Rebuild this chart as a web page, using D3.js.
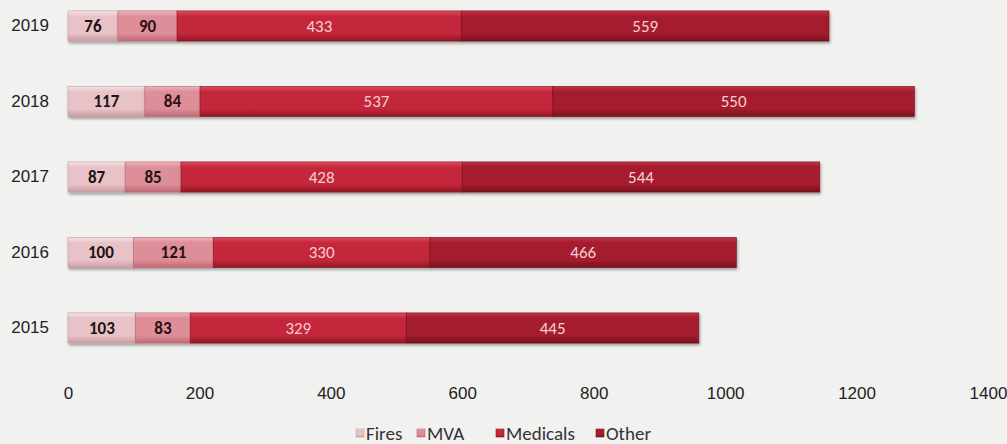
<!DOCTYPE html>
<html>
<head>
<meta charset="utf-8">
<script src="https://cdn.jsdelivr.net/npm/d3@7"></script>
<style>
  body { margin: 0; background: #f1f1f0; }
  svg { display: block; font-family: Carlito, Lato, "Open Sans", sans-serif; }
</style>
</head>
<body>
<div id="chart"></div>
<script>
// data
const years = ["2019", "2018", "2017", "2016", "2015"];
const seriesNames = ["Fires", "MVA", "Medicals", "Other"];
const fires    = [76, 117, 87, 100, 103];
const mva      = [90, 84, 85, 121, 83];
const medicals = [433, 537, 428, 330, 329];
const other    = [559, 550, 544, 466, 445];
const xTicks = [0, 200, 400, 600, 800, 1000, 1200, 1400];

const width = 1007, height = 444;
const colors = {
  Fires:    ["#f6e4e6", "#e8c2c6", "#c99ca2"],
  MVA:      ["#eeb4bb", "#de8e98", "#bf6874"],
  Medicals: ["#e04a5a", "#c4283a", "#8e1624"],
  Other:    ["#c13344", "#a51c2d", "#761020"]
};
const labelColor = { Fires: "#1c1414", MVA: "#2a1214", Medicals: "#f3cfd2", Other: "#f3cfd2" };

// build rows for stack
const rows = years.map((y, i) => ({
  year: y, Fires: fires[i], MVA: mva[i], Medicals: medicals[i], Other: other[i]
}));
const stacked = d3.stack().keys(seriesNames)(rows);

const svg = d3.select("#chart").append("svg")
  .attr("width", width).attr("height", height);

svg.append("rect").attr("width", width).attr("height", height).attr("fill", "#f1f1f0");

const defs = svg.append("defs");
seriesNames.forEach(k => {
  const g = defs.append("linearGradient").attr("id", "grad-" + k)
    .attr("x1", 0).attr("y1", 0).attr("x2", 0).attr("y2", 1);
  g.append("stop").attr("offset", "0%").attr("stop-color", colors[k][0]);
  g.append("stop").attr("offset", "18%").attr("stop-color", colors[k][1]);
  g.append("stop").attr("offset", "75%").attr("stop-color", colors[k][1]);
  g.append("stop").attr("offset", "100%").attr("stop-color", colors[k][2]);
});
const shadow = defs.append("filter").attr("id", "shadow")
  .attr("x", "-5%").attr("y", "-20%").attr("width", "110%").attr("height", "160%");
shadow.append("feGaussianBlur").attr("in", "SourceAlpha").attr("stdDeviation", 1.5);
shadow.append("feOffset").attr("dx", 1).attr("dy", 2).attr("result", "b");
shadow.append("feComponentTransfer").append("feFuncA").attr("type", "linear").attr("slope", 0.35);
const merge = shadow.append("feMerge");
merge.append("feMergeNode");
merge.append("feMergeNode").attr("in", "SourceGraphic");

const x = d3.scaleLinear().domain([0, 1400]).range([68, 988]);
const y = d3.scaleBand().domain(years)
  .range([-11.75, 365.75]).paddingInner(0.6).paddingOuter(0.3);

// bars
const layers = svg.append("g").selectAll("g.layer")
  .data(stacked).enter().append("g").attr("class", "layer");

layers.selectAll("rect")
  .data(d => d.map(v => Object.assign(v, { key: d.key })))
  .enter().append("rect")
  .attr("x", d => x(d[0]))
  .attr("y", d => y(d.data.year))
  .attr("width", d => x(d[1]) - x(d[0]))
  .attr("height", y.bandwidth())
  .attr("fill", d => "url(#grad-" + d.key + ")")
  .attr("stroke", d => colors[d.key][2])
  .attr("stroke-width", 0.6)
  .attr("filter", "url(#shadow)");

// segment labels
layers.selectAll("text")
  .data(d => d)
  .enter().append("text")
  .attr("x", d => (x(d[0]) + x(d[1])) / 2)
  .attr("y", d => y(d.data.year) + y.bandwidth() / 2)
  .attr("dy", "0.35em")
  .attr("text-anchor", "middle")
  .attr("font-size", 17)
  .attr("font-weight", d => (d.key === "Fires" || d.key === "MVA") ? "bold" : "normal")
  .attr("fill", d => labelColor[d.key])
  .text(d => d[1] - d[0]);

// y axis (year labels)
const yAxis = svg.append("g")
  .attr("transform", "translate(49,0)")
  .call(d3.axisLeft(y).tickSize(0).tickPadding(0));
yAxis.select(".domain").remove();
yAxis.selectAll("text").attr("font-size", 17).attr("fill", "#222")
  .attr("font-family", "inherit");

// x axis
const xAxis = svg.append("g")
  .attr("transform", "translate(0,393)")
  .call(d3.axisBottom(x).tickValues(xTicks).tickFormat(d3.format("d")).tickSize(0).tickPadding(0));
xAxis.select(".domain").remove();
xAxis.selectAll("text").attr("font-size", 17).attr("fill", "#222")
  .attr("dy", "0.35em").attr("font-family", "inherit");

// legend
const legendX = [356, 417, 496, 596];
const legend = svg.append("g").selectAll("g")
  .data(seriesNames).enter().append("g")
  .attr("transform", (d, i) => `translate(${legendX[i]},433)`);
legend.append("rect")
  .attr("x", 0).attr("y", -4).attr("width", 8).attr("height", 8)
  .attr("fill", d => "url(#grad-" + d + ")")
  .attr("stroke", d => colors[d][2]).attr("stroke-width", 0.6);
legend.append("text")
  .attr("x", 10).attr("dy", "0.35em")
  .attr("font-size", 19).attr("fill", "#333")
  .text(d => d);
</script>
</body>
</html>
